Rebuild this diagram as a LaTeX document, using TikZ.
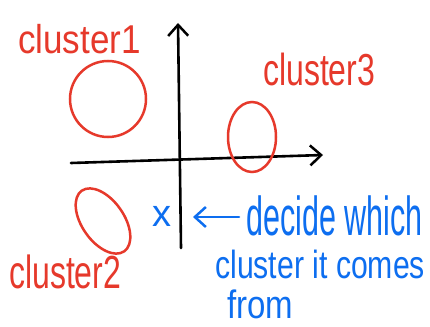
\documentclass[tikz,border=0pt]{standalone}
\usepackage{fontspec}
\usepackage{graphicx}
\setmainfont{Liberation Sans}
\usetikzlibrary{arrows.meta}
\definecolor{hred}{HTML}{E6392B}
\definecolor{hblue}{HTML}{0D6EF0}
\tikzset{
  axis/.style={line width=2.6pt, black, line cap=round, line join=round},
  blob/.style={line width=2.5pt, hred},
  redtext/.style={anchor=base west, inner sep=0pt, text=hred},
  bluetext/.style={anchor=base west, inner sep=0pt, text=hblue},
  barb/.style={-{Straight Barb[length=11pt, width=20pt, line width=2.5pt]}}
}
\newcommand{\hw}[3]{\fontsize{#1}{#1}\selectfont\scalebox{1}[#2]{#3}}
\begin{document}
\begin{tikzpicture}[x=1pt, y=-1pt]
\useasboundingbox[fill=white] (0,0) rectangle (430,326);
% axes
\coordinate (ybot) at (181,248);
\coordinate (ytop) at (178,23);
\coordinate (xleft) at (71,163);
\coordinate (xright) at (323,155);
\draw[axis, barb] (ybot) -- (ytop);
\draw[axis, barb] (xleft) -- (xright);
% clusters
\draw[blob] (108,99) circle [radius=38pt];
\draw[blob] (252,137) ellipse [x radius=24pt, y radius=35pt];
\draw[blob, rotate around={-55:(103,221)}] (103,221) ellipse [x radius=37pt, y radius=21pt];
% labels
\node[redtext] (c1) at (18,54) {\hw{35}{1.15}{cluster1}};
\node[redtext] (c3) at (263,85) {\hw{32}{1.4}{cluster3}};
\node[redtext] (c2) at (9,288) {\hw{32}{1.45}{cluster2}};
\node[bluetext] (xp) at (152,226) {\hw{38}{1}{x}};
\node[bluetext] (l1) at (246,235) {\hw{30.5}{1.8}{decide which}};
\node[bluetext] (l2) at (215,278) {\hw{30.2}{1.3}{cluster it comes}};
\node[bluetext] (l3) at (227,318) {\hw{33}{1.2}{from}};
% arrow
\coordinate (ahead) at (193,217);
\draw[line width=2.6pt, hblue, line cap=round, barb] (l1.base west) ++(-7,-18) coordinate (atail) (atail) -- (ahead);
\end{tikzpicture}
\end{document}
